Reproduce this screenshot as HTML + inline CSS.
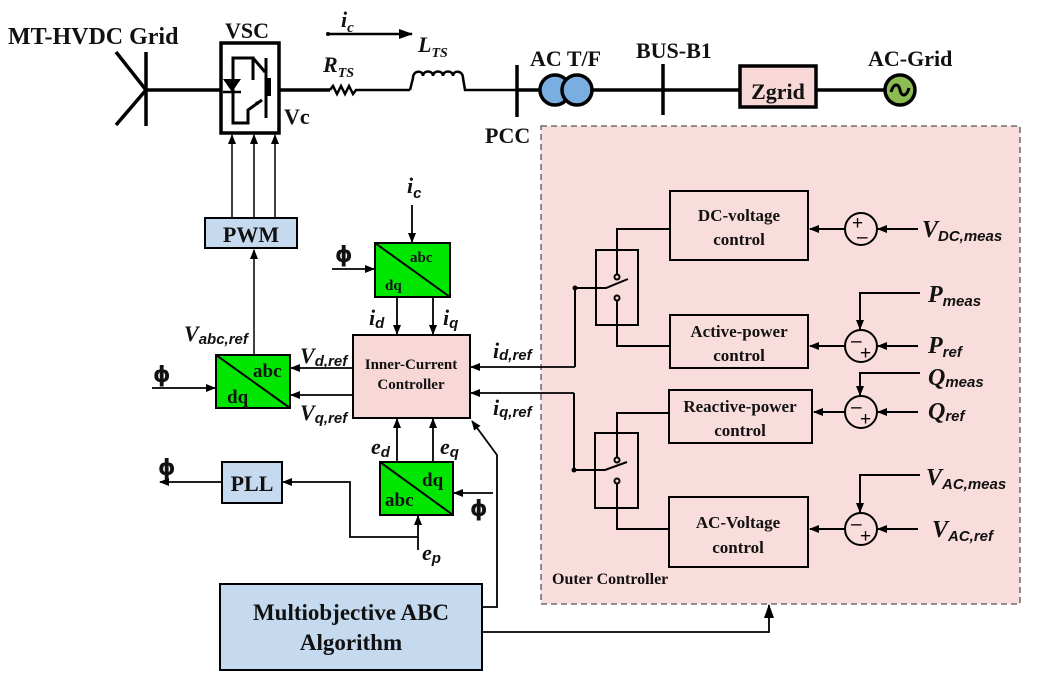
<!DOCTYPE html>
<html><head><meta charset="utf-8"><style>
html,body{margin:0;padding:0;background:#fff;}
svg{display:block;}
.t{font-family:"Liberation Serif",serif;font-weight:bold;fill:#111;}
.i{font-family:"Liberation Serif",serif;font-style:italic;font-weight:bold;fill:#111;}
.s{font-family:"Liberation Sans",sans-serif;font-style:italic;fill:#111;}
.p{font-family:"DejaVu Sans",sans-serif;font-weight:bold;fill:#111;}
</style></head><body>
<svg width="1040" height="681" viewBox="0 0 1040 681" xmlns="http://www.w3.org/2000/svg">
<defs>
<marker id="a" markerWidth="10" markerHeight="8" refX="9" refY="4" orient="auto" markerUnits="userSpaceOnUse"><path d="M0,0 L10,4 L0,8 z" fill="#000"/></marker>
<marker id="b" markerWidth="14" markerHeight="10" refX="13" refY="5" orient="auto" markerUnits="userSpaceOnUse"><path d="M0,0 L14,5 L0,10 z" fill="#000"/></marker>
</defs>
<rect x="541" y="126" width="479" height="478" fill="#f9dcdc" stroke="#555" stroke-width="1.3" stroke-dasharray="6,4"/>
<g stroke="#000" stroke-width="3.5" fill="none">
<line x1="146" y1="52" x2="146" y2="126"/>
<line x1="116" y1="52" x2="146" y2="90"/>
<line x1="116" y1="125" x2="146" y2="90"/>
<line x1="146" y1="90" x2="221" y2="90"/>
<rect x="221" y="43" width="58" height="90"/>
<line x1="279" y1="90" x2="330" y2="90"/>
<polyline points="330,90 333,86 337,94 341,86 345,94 349,86 353,94 356,90 410,90" stroke-width="2.5"/>
<path d="M410,90 L413,78 C413,70 423,70 423,76 C423,70 433,70 433,76 C433,70 443,70 443,76 C443,70 453,70 453,76 C453,70 463,70 463,78 L465,90 L517,90" stroke-width="2.5"/>
<line x1="517" y1="65" x2="517" y2="117"/>
<line x1="517" y1="90" x2="540" y2="90"/>
<line x1="592" y1="90" x2="740" y2="90"/>
<line x1="663" y1="64" x2="663" y2="115"/>
<line x1="816" y1="90" x2="885" y2="90"/>
</g>
<g stroke="#000" stroke-width="3" fill="none">
<polyline points="253,80 253,58 233,58 233,123 248,123 248,110 262,100"/>
<polyline points="253,58 265,72"/>
<line x1="266" y1="58" x2="266" y2="118"/>
<line x1="269" y1="78" x2="269" y2="96" stroke-width="4"/>
</g>
<path d="M223,79 L241,79 L232,92 z" fill="#000"/>
<line x1="223" y1="92" x2="241" y2="92" stroke="#000" stroke-width="2.5"/>
<path d="M262,100 l-7,2 l3,3 z" fill="#000"/>
<circle cx="555" cy="90" r="15" fill="#7aaee0" stroke="#000" stroke-width="3.5"/>
<circle cx="577" cy="90" r="15" fill="#7aaee0" stroke="#000" stroke-width="3.5"/>
<rect x="740" y="66" width="76" height="41" fill="#f8d7d7" stroke="#000" stroke-width="3.5"/>
<text class="t" x="778" y="99" font-size="22" text-anchor="middle">Zgrid</text>
<circle cx="900" cy="90" r="15" fill="#8cbc52" stroke="#000" stroke-width="3.5"/>
<path d="M891,92 C894,82 899,84 900,90 C901,96 906,98 909,88" stroke="#000" stroke-width="3" fill="none"/>
<text class="t" x="8" y="44" font-size="24">MT-HVDC Grid</text>
<text class="t" x="225" y="38" font-size="22">VSC</text>
<text class="t" x="284" y="124" font-size="22">Vc</text>
<text class="t" x="485" y="143" font-size="22">PCC</text>
<text class="t" x="530" y="66" font-size="22">AC T/F</text>
<text class="t" x="636" y="58" font-size="22">BUS-B1</text>
<text class="t" x="868" y="66" font-size="22">AC-Grid</text>
<text class="i" x="341" y="27" font-size="22">i<tspan font-size="15" dy="5">c</tspan></text>
<line x1="328" y1="34" x2="412" y2="34" stroke="#000" stroke-width="2.5" marker-end="url(#b)"/>
<circle cx="328" cy="34" r="2" fill="#000"/>
<text class="i" x="418" y="52" font-size="22">L<tspan font-size="14" dy="5">TS</tspan></text>
<text class="i" x="323" y="72" font-size="22">R<tspan font-size="14" dy="5">TS</tspan></text>
<g stroke="#000" stroke-width="1.5" fill="none">
<line x1="232" y1="218" x2="232" y2="135" marker-end="url(#a)"/>
<line x1="254" y1="218" x2="254" y2="135" marker-end="url(#a)"/>
<line x1="275" y1="218" x2="275" y2="135" marker-end="url(#a)"/>
<line x1="254" y1="355" x2="254" y2="250" marker-end="url(#a)"/>
</g>
<rect x="205" y="218" width="92" height="30" fill="#c5d9ef" stroke="#000" stroke-width="2"/>
<text class="t" x="251" y="242" font-size="22" text-anchor="middle">PWM</text>
<g stroke="#000" stroke-width="2">
<rect x="216" y="355" width="74" height="53" fill="#00e600"/>
<line x1="216" y1="355" x2="290" y2="408"/>
<rect x="375" y="243" width="75" height="54" fill="#00e600"/>
<line x1="375" y1="243" x2="450" y2="297"/>
<rect x="380" y="462" width="73" height="53" fill="#00e600"/>
<line x1="380" y1="462" x2="453" y2="515"/>
</g>
<text class="t" x="253" y="377" font-size="19">abc</text>
<text class="t" x="227" y="403" font-size="19">dq</text>
<text class="t" x="410" y="262" font-size="15">abc</text>
<text class="t" x="385" y="290" font-size="15">dq</text>
<text class="t" x="422" y="486" font-size="19">dq</text>
<text class="t" x="385" y="506" font-size="19">abc</text>
<rect x="353" y="335" width="117" height="83" fill="#f8d7d7" stroke="#000" stroke-width="2"/>
<text class="t" x="411" y="369" font-size="15" text-anchor="middle">Inner-Current</text>
<text class="t" x="411" y="389" font-size="15" text-anchor="middle">Controller</text>
<g stroke="#000" stroke-width="1.8" fill="none">
<line x1="152" y1="388" x2="215" y2="388" marker-end="url(#a)"/>
<line x1="353" y1="368" x2="291" y2="368" marker-end="url(#a)"/>
<line x1="353" y1="395" x2="291" y2="395" marker-end="url(#a)"/>
<line x1="412" y1="205" x2="412" y2="242" marker-end="url(#a)"/>
<line x1="332" y1="269" x2="374" y2="269" marker-end="url(#a)"/>
<line x1="397" y1="297" x2="397" y2="334" marker-end="url(#a)"/>
<line x1="433" y1="297" x2="433" y2="334" marker-end="url(#a)"/>
<line x1="397" y1="462" x2="397" y2="419" marker-end="url(#a)"/>
<line x1="433" y1="462" x2="433" y2="419" marker-end="url(#a)"/>
<line x1="493" y1="493" x2="454" y2="493" marker-end="url(#a)"/>
<line x1="418" y1="550" x2="418" y2="516" marker-end="url(#a)"/>
<polyline points="418,537 350,537 350,482 283,482" marker-end="url(#a)"/>
<line x1="222" y1="482" x2="160" y2="482" marker-end="url(#a)"/>
<polyline points="575,367 471,367" marker-end="url(#a)"/>
<polyline points="574,393 471,393" marker-end="url(#a)"/>
<polyline points="482,607 497,607 497,455 472,421" marker-end="url(#a)"/>
<polyline points="482,632 769,632 769,605" marker-end="url(#b)"/>
</g>
<rect x="222" y="462" width="60" height="41" fill="#c5d9ef" stroke="#000" stroke-width="2"/>
<text class="t" x="252" y="491" font-size="22" text-anchor="middle">PLL</text>
<rect x="220" y="584" width="262" height="86" fill="#c5d9ef" stroke="#000" stroke-width="2"/>
<text class="t" x="351" y="620" font-size="23" text-anchor="middle">Multiobjective ABC</text>
<text class="t" x="351" y="650" font-size="23" text-anchor="middle">Algorithm</text>
<text class="p" x="153" y="382" font-size="22">ϕ</text>
<text class="p" x="335" y="262" font-size="22">ϕ</text>
<text class="p" x="158" y="475" font-size="22">ϕ</text>
<text class="p" x="470" y="516" font-size="22">ϕ</text>
<text class="i" x="184" y="341" font-size="22">V<tspan class="s" font-size="15" dy="3">abc,ref</tspan></text>
<text class="i" x="300" y="363" font-size="22">V<tspan class="s" font-size="15" dy="3">d,ref</tspan></text>
<text class="i" x="300" y="420" font-size="22">V<tspan class="s" font-size="15" dy="3">q,ref</tspan></text>
<text class="i" x="407" y="193" font-size="22">i<tspan class="s" font-size="15" dy="5">c</tspan></text>
<text class="i" x="369" y="325" font-size="22">i<tspan class="s" font-size="15" dy="3">d</tspan></text>
<text class="i" x="443" y="325" font-size="22">i<tspan class="s" font-size="15" dy="3">q</tspan></text>
<text class="i" x="371" y="454" font-size="22">e<tspan class="s" font-size="15" dy="3">d</tspan></text>
<text class="i" x="440" y="454" font-size="22">e<tspan class="s" font-size="15" dy="3">q</tspan></text>
<text class="i" x="422" y="560" font-size="22">e<tspan class="s" font-size="15" dy="3">p</tspan></text>
<text class="i" x="493" y="358" font-size="22">i<tspan class="s" font-size="15" dy="2">d,ref</tspan></text>
<text class="i" x="493" y="415" font-size="22">i<tspan class="s" font-size="15" dy="2">q,ref</tspan></text>
<g stroke="#000" stroke-width="2" fill="none">
<rect x="670" y="191" width="138" height="69"/>
<rect x="670" y="315" width="138" height="53"/>
<rect x="669" y="390" width="143" height="53"/>
<rect x="669" y="497" width="139" height="70"/>
<rect x="596" y="250" width="42" height="75"/>
<rect x="595" y="433" width="43" height="75"/>
<polyline points="670,229 617,229 617,275"/>
<polyline points="617,300 617,346 670,346"/>
<polyline points="575,367 575,288 606,288 628,279"/>
<polyline points="669,413 617,413 617,458"/>
<polyline points="617,483 617,529 669,529"/>
<polyline points="574,393 574,470 605,470 627,462"/>
<circle cx="617" cy="277" r="2.5"/><circle cx="617" cy="298" r="2.5"/>
<circle cx="617" cy="460" r="2.5"/><circle cx="617" cy="481" r="2.5"/>
<circle cx="861" cy="229" r="16"/><circle cx="861" cy="346" r="16"/>
<circle cx="861" cy="412" r="16"/><circle cx="861" cy="529" r="16"/>
<line x1="845" y1="229" x2="810" y2="229" marker-end="url(#a)"/>
<line x1="845" y1="346" x2="810" y2="346" marker-end="url(#a)"/>
<line x1="845" y1="412" x2="814" y2="412" marker-end="url(#a)"/>
<line x1="845" y1="529" x2="810" y2="529" marker-end="url(#a)"/>
<line x1="918" y1="229" x2="878" y2="229" marker-end="url(#a)"/>
<line x1="918" y1="346" x2="878" y2="346" marker-end="url(#a)"/>
<line x1="918" y1="412" x2="878" y2="412" marker-end="url(#a)"/>
<line x1="918" y1="529" x2="878" y2="529" marker-end="url(#a)"/>
<polyline points="920,293 860,293 860,329" marker-end="url(#a)"/>
<polyline points="920,373 860,373 860,395" marker-end="url(#a)"/>
<polyline points="920,475 860,475 860,512" marker-end="url(#a)"/>
</g>
<circle cx="575" cy="288" r="2.5" fill="#000"/><circle cx="574" cy="470" r="2.5" fill="#000"/>
<g font-family="Liberation Sans,sans-serif" font-size="19" fill="#000">
<text x="852" y="229">+</text><text x="857" y="243">–</text>
<text x="851" y="347">–</text><text x="860" y="359">+</text>
<text x="851" y="413">–</text><text x="860" y="425">+</text>
<text x="851" y="530">–</text><text x="860" y="542">+</text>
</g>
<g class="t" font-size="17" text-anchor="middle">
<text x="739" y="221">DC-voltage</text><text x="739" y="245">control</text>
<text x="739" y="337">Active-power</text><text x="739" y="361">control</text>
<text x="740" y="412">Reactive-power</text><text x="740" y="436">control</text>
<text x="738" y="528">AC-Voltage</text><text x="738" y="553">control</text>
</g>
<text class="t" x="552" y="584" font-size="16">Outer Controller</text>
<text class="i" x="922" y="237" font-size="24">V<tspan class="s" font-size="15" dy="4" font-style="normal">DC,meas</tspan></text>
<text class="i" x="928" y="302" font-size="24">P<tspan class="s" font-size="15" dy="4" font-style="normal">meas</tspan></text>
<text class="i" x="928" y="353" font-size="24">P<tspan class="s" font-size="15" dy="4" font-style="normal">ref</tspan></text>
<text class="i" x="928" y="385" font-size="24">Q<tspan class="s" font-size="15" dy="2" font-style="normal">meas</tspan></text>
<text class="i" x="928" y="419" font-size="24">Q<tspan class="s" font-size="15" dy="2" font-style="normal">ref</tspan></text>
<text class="i" x="926" y="485" font-size="24">V<tspan class="s" font-size="15" dy="4" font-style="normal">AC,meas</tspan></text>
<text class="i" x="932" y="537" font-size="24">V<tspan class="s" font-size="15" dy="4" font-style="normal">AC,ref</tspan></text>
</svg>
</body></html>
